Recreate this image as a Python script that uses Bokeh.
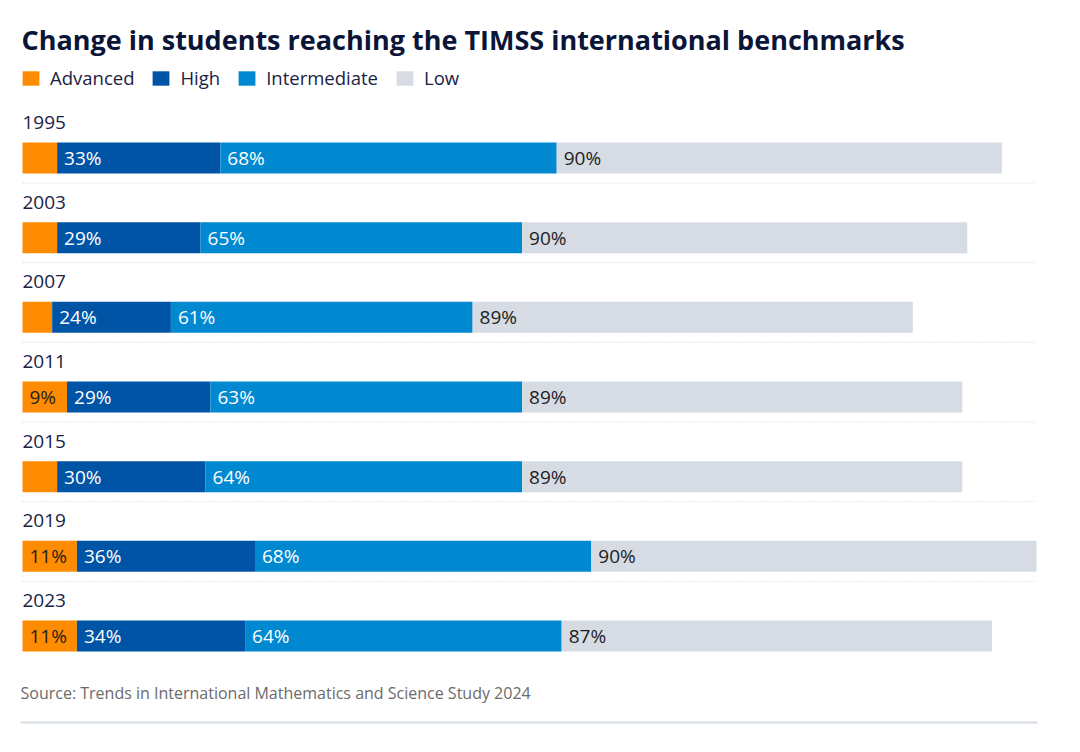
from bokeh.plotting import figure
from bokeh.models import Range1d, Label, BoxAnnotation, ColumnDataSource
from bokeh.core.properties import value
from bokeh.embed import file_html
from bokeh.resources import INLINE

years = ["1995", "2003", "2007", "2011", "2015", "2019", "2023"]
series = ["Advanced", "High", "Intermediate", "Low"]
advanced = [7, 7, 6, 9, 7, 11, 11]
high = [33, 29, 24, 29, 30, 36, 34]
intermediate = [68, 65, 61, 63, 64, 68, 64]
low = [90, 90, 89, 89, 89, 90, 87]
colors = ["#ff8c00", "#0054a6", "#0088d1", "#d6dbe4"]
label_colors = ["#1e1e1e", "#ffffff", "#ffffff", "#1e1e1e"]

FONT = "Open Sans"
W, H = 1064, 736
px_per_unit = 1014 / 205.0
row_px = 79.67
x0 = -22 / px_per_unit
y_top = -157.5 / row_px
y_bot = (H - 157.5) / row_px

p = figure(width=W, height=H, output_backend="svg", toolbar_location=None,
           x_range=Range1d(x0, x0 + W / px_per_unit),
           y_range=Range1d(y_bot, y_top),
           min_border=0, outline_line_color=None,
           x_axis_location=None, y_axis_location=None, tools="")
p.xgrid.visible = False
p.ygrid.visible = False

rows = list(range(len(years)))
vals = [advanced, high, intermediate, low]
totals = [sum(v[i] for v in vals) for i in rows]
maxtot = max(totals)

# separators
for i in rows[:-1]:
    p.line(x=[0, maxtot], y=[i + 25 / row_px] * 2, line_color="#cfcfcf",
           line_width=1, line_dash="1 2")

cum = [0] * len(years)
for s, name in enumerate(series):
    left = cum[:]
    right = [cum[i] + vals[s][i] for i in rows]
    src = ColumnDataSource(dict(y=rows, left=left, right=right,
                                lab=[f"{v}%" if v >= 8 else "" for v in vals[s]]))
    p.hbar(y="y", left="left", right="right", height=31 / row_px, source=src,
           fill_color=colors[s], line_color=None, legend_label=name)
    p.text(x="left", y="y", text="lab", source=src, x_offset=7,
           text_baseline="middle", text_align="left", text_font=value(FONT),
           text_font_size="19px", text_color=label_colors[s])
    cum = right

# year labels
p.text(x=[0] * len(years), y=[i - 35.5 / row_px for i in rows], text=years,
       text_baseline="middle", text_align="left", text_font=value(FONT),
       text_font_size="19px", text_color="#1b2244")

lg = p.legend[0]
lg.orientation = "horizontal"
lg.location = (20, H - 90)
lg.padding = 0
lg.margin = 0
lg.spacing = 16
lg.glyph_width = 21
lg.glyph_height = 18
lg.label_standoff = 9
lg.border_line_alpha = 0
lg.background_fill_alpha = 0
lg.label_text_font = FONT
lg.label_text_font_size = "18.5px"
lg.label_text_color = "#1b2244"
lg.label_height = 18

p.add_layout(Label(x=21, y=H - 39, x_units="screen", y_units="screen",
                   text="Change in students reaching the TIMSS international benchmarks",
                   text_font=FONT, text_font_size="27px", text_font_style="bold",
                   text_color="#0b1538", text_baseline="middle"))
p.add_layout(Label(x=20, y=H - 692, x_units="screen", y_units="screen",
                   text="Source: Trends in International Mathematics and Science Study 2024",
                   text_font=FONT, text_font_size="16px", text_color="#6b6b6b",
                   text_baseline="middle"))
p.add_layout(BoxAnnotation(left=20, right=1037, bottom=H - 723, top=H - 721,
                           left_units="screen", right_units="screen",
                           bottom_units="screen", top_units="screen",
                           fill_color="#d5dbe3", fill_alpha=1, line_color=None))

open("out.html", "w").write(file_html(p, INLINE))
